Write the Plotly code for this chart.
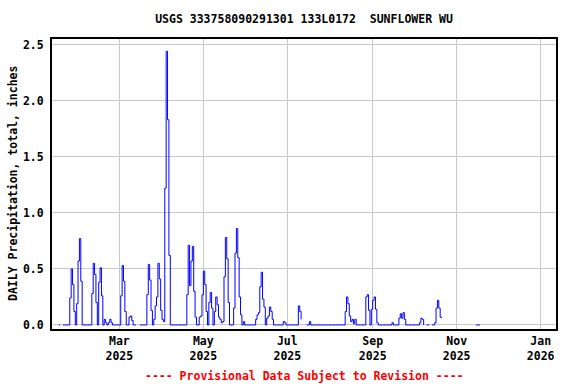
import pandas as pd
import plotly.graph_objects as go

# Daily precipitation (inches), consecutive days starting at start_date; None = missing
start_date = "2025-01-16"
precip_block1 = [0, 0, None, 0, 0, 0, 0, 0, 0.24, 0.50, 0.36, 0.12, 0, 0.19, 0.57]
precip_block2 = [0.77, 0.39, 0, 0, 0, 0, 0, 0, 0, 0.28, 0.55, 0.45, 0.20, 0, 0.38, 0.51,
                 0.26, 0, 0.05, 0.02, 0, 0.02, 0.05, 0.02, 0, 0, 0, 0]
precip_block3 = [0, 0, 0.26, 0.53, 0.39, 0.12, 0, 0, 0.07, 0.08, 0.04, 0, 0, 0, None, None,
                 0, 0, 0, 0, 0, 0.27, 0.54, 0.40, 0.13, 0, 0.05, 0.17, 0.25, 0.55, 0.41]
precip_block4 = [0.13, 0.05, 0.03, 1.22, 2.44, 1.83, 0.62, 0, 0, 0, 0, 0, 0, 0, 0, 0, 0, 0, 0,
                 0.27, 0.71, 0.35, 0.57, 0.70, 0.30, 0.07, 0, 0, 0.07, 0.08]
precip_block5 = [0.27, 0.48, 0.36, 0.12, 0, 0.20, 0.29, 0.15, 0, 0.12, 0.25, 0.18, 0.07, 0.05,
                 0.02, 0.03, 0.43, 0.78, 0.59, 0.20, 0, 0, 0, 0.15, 0.64, 0.86, 0.60, 0.25,
                 0.09, 0, 0.03]
precip_block6 = [0, 0, 0, 0, 0, 0, 0, 0, 0.05, 0.09, 0.11, 0.34, 0.47, 0.23, 0.16, 0, 0.06,
                 0.08, 0.16, 0.12, 0.05, 0, 0, 0, 0, 0, 0, 0, 0.03, 0.02]
precip_block7 = [0, 0, 0, 0, 0, 0, 0, 0, 0, 0.17, 0.12, 0.05, None, None, None, 0, 0, 0.03,
                 0, 0, 0, 0, 0, 0, 0, 0, 0, 0, 0, 0, 0]
precip_block8 = [0, 0, 0, 0, 0, 0, 0, 0, 0, 0, 0, 0, 0.12, 0.25, 0.19, 0.08, 0.03, 0.05, 0.01,
                 0.05, 0, 0, 0, 0, 0, 0, 0, 0.25, 0.27, 0.13, 0]
precip_block9 = [0.14, 0.22, 0.25, 0.14, 0.02, 0, 0, 0, 0, 0, 0, 0, 0, 0, 0, 0.02, 0, 0, 0, 0,
                 0.06, 0.10, 0.06, 0.11, 0.05, 0, 0, 0, 0, 0]
precip_block10 = [0, 0, 0, 0, 0, 0.02, 0.06, 0.05, 0, None, 0, 0, 0, None, 0, 0, 0.02, 0.15,
                  0.22, 0.15, 0.07, 0.06, None, None, None, None, None, None, None, None, None]
precip_block11 = [None, None, None, None, None, None, None, None, None, None, None, None,
                  None, None, None, 0, 0, 0, 0]

tick_dates = ["2025-03-01", "2025-05-01", "2025-07-01", "2025-09-01", "2025-11-01", "2026-01-01"]
tick_labels = ["Mar<br>2025", "May<br>2025", "Jul<br>2025", "Sep<br>2025", "Nov<br>2025", "Jan<br>2026"]
y_ticks = [0.0, 0.5, 1.0, 1.5, 2.0, 2.5]

values = (precip_block1 + precip_block2 + precip_block3 + precip_block4 + precip_block5 +
          precip_block6 + precip_block7 + precip_block8 + precip_block9 + precip_block10 +
          precip_block11)
dates = pd.date_range(start_date, periods=len(values), freq="D")

FONT = "DejaVu Sans Mono"
FS = 11.5

fig = go.Figure()
fig.add_trace(go.Scatter(
    x=dates, y=values, mode="lines",
    line=dict(color="#0000ff", width=1, shape="hv"),
    connectgaps=False, showlegend=False, hoverinfo="skip",
))

fig.update_layout(
    width=576, height=384,
    margin=dict(l=52, r=20, t=39, b=55, autoexpand=False),
    paper_bgcolor="white", plot_bgcolor="white",
    font=dict(family=FONT, size=FS, color="black", weight="bold"),
    title=dict(text="USGS 333758090291301 133L0172 \u00a0SUNFLOWER WU",
               x=0.5, xref="paper", xanchor="center",
               y=1 - 19 / 384, yref="container", yanchor="middle",
               font=dict(family=FONT, size=FS, color="black", weight="bold")),
    showlegend=False,
)

fig.update_xaxes(
    type="date",
    range=["2025-01-11 02:00", "2026-01-12 03:00"],
    tickmode="array", tickvals=tick_dates, ticktext=tick_labels,
    showgrid=True, gridcolor="#c8c8c8", gridwidth=1,
    showline=True, linecolor="black", linewidth=2, mirror=True,
    ticks="", zeroline=False, automargin=False,
    tickfont=dict(family=FONT, size=FS, color="black", weight="bold"),
)
fig.update_yaxes(
    range=[-0.036, 2.55],
    tickmode="array", tickvals=y_ticks, ticktext=[f"{v:.1f}" for v in y_ticks],
    showgrid=True, gridcolor="#c8c8c8", gridwidth=1,
    showline=True, linecolor="black", linewidth=2, mirror=True,
    ticks="", zeroline=False, ticklabelstandoff=4, automargin=False,
    tickfont=dict(family=FONT, size=FS, color="black", weight="bold"),
)

fig.add_annotation(
    text="DAILY Precipitation, total, inches",
    xref="paper", yref="paper", x=-39 / 504, y=0.5,
    xanchor="center", yanchor="middle", textangle=-90, showarrow=False,
    font=dict(family=FONT, size=FS, color="black", weight="bold"),
)
fig.add_annotation(
    text="---- Provisional Data Subject to Revision ----",
    xref="paper", yref="paper", x=0.5, y=-(376 - 329) / 290,
    xanchor="center", yanchor="middle", showarrow=False,
    font=dict(family=FONT, size=FS, color="#ff0000", weight="bold"),
)

fig.write_html(
    "out.html",
    config={"displayModeBar": False, "staticPlot": True},
    post_script="document.body.style.margin='0';document.body.style.padding='0';",
)
